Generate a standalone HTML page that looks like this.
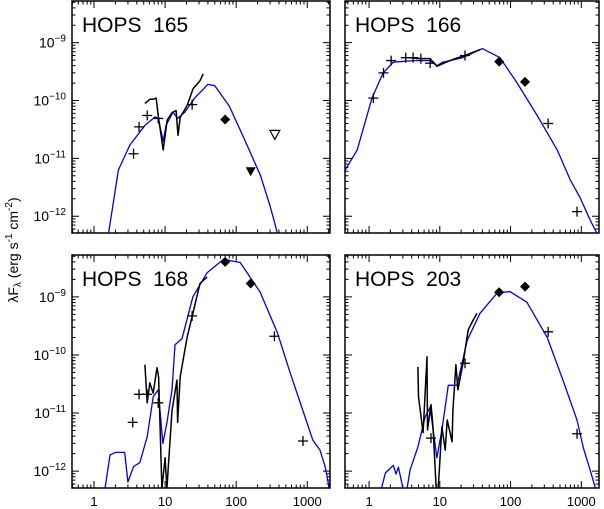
<!DOCTYPE html>
<html><head><meta charset="utf-8"><style>
body{margin:0;background:#fff;}
svg{display:block;font-family:"Liberation Sans","DejaVu Sans",sans-serif;}
</style></head><body>
<svg id="c" width="604" height="509" viewBox="0 0 604 509">
<text transform="translate(18,250) rotate(-90)" text-anchor="middle" font-size="14">λF<tspan font-size="10" dy="3">λ</tspan><tspan dy="-3"> (erg s</tspan><tspan font-size="10" dy="-6">-1</tspan><tspan dy="6"> cm</tspan><tspan font-size="10" dy="-6">-2</tspan><tspan dy="6">)</tspan></text>
</svg>
<script>
// ---- data ----
const panelNames = ["HOPS 165","HOPS 166","HOPS 168","HOPS 203"];
const yTickLabels = ["-9","-10","-11","-12"];
const yTickValues = [1e-9,1e-10,1e-11,1e-12];
const xTickLabels = ["1","10","100","1000"];
const xTickValues = [1,10,100,1000];

const m165wl = [1.6,2.2,3.2,5.2,7.2,8.0,9.4,10.3,12.9,15,19,26,40,50,80,134,219,300,355,380];
const m165f = [5e-13,6.3e-12,1.7e-11,3.7e-11,5.2e-11,4.9e-11,2e-11,3.7e-11,6.3e-11,4.9e-11,6.3e-11,1.1e-10,1.9e-10,1.8e-10,8e-11,2e-11,5.1e-12,1.5e-12,7e-13,5e-13];
const s165wl = [5.2,6.1,6.8,7.5,8.0,9.4,10.7,12.6,14.3,15.2,16.3,20.4,24.8,31,34.3];
const s165f = [8.9e-11,1.05e-10,1.05e-10,1.1e-10,5.5e-11,1.4e-11,4.6e-11,6.2e-11,6.7e-11,2.5e-11,5.1e-11,8.2e-11,1.6e-10,2.2e-10,2.9e-10];
const p165wl = [3.6,4.3,5.6,8,24];
const p165f = [1.2e-11,3.5e-11,5.5e-11,4.9e-11,8.5e-11];
const d165wl = [70]; const d165f = [4.7e-11];
const t165wl = [160]; const t165f = [6e-12];
const u165wl = [350]; const u165f = [2.6e-11];

const m166wl = [0.46,0.68,1.1,1.58,2.2,4.2,7.3,9.1,11,21,40,71,124,238,456,700,960,1340,1670];
const m166f = [6.3e-12,1.4e-11,1.1e-10,3e-10,4.6e-10,4.9e-10,4.9e-10,4e-10,4.6e-10,5.5e-10,7.9e-10,5.5e-10,2e-10,5.5e-11,1.4e-11,4.2e-12,2.1e-12,8.5e-13,5e-13];
const s166wl = [3.8,5.3,7.3,9.1,11.8,16.5,22.7,37];
const s166f = [5.5e-10,5.3e-10,5.3e-10,3.9e-10,4.5e-10,5.3e-10,6e-10,7.6e-10];
const p166wl = [1.15,1.6,2.05,3.3,4.2,5.4,7.3,22.7,340,870];
const p166f = [1.1e-10,3e-10,4.9e-10,5.5e-10,5.5e-10,5.3e-10,4.4e-10,6e-10,4e-11,1.2e-12];
const d166wl = [69,160]; const d166f = [4.7e-10,2.1e-10];

const m168wl = [1.43,1.68,2.0,2.7,3.0,3.6,4.4,5.6,6.8,8,9.3,10.6,12.5,13.8,17.3,24.6,39,66,114,218,380,575,890,1200,1510,1780,2040];
const m168f = [5.1e-13,1.9e-12,2.1e-12,2.1e-12,6.5e-13,1.2e-12,1.4e-12,3.9e-12,1.9e-11,2.5e-11,3e-12,6.8e-12,2.5e-11,1.5e-10,1.9e-10,1e-9,2.6e-9,4.4e-9,3.9e-9,1.2e-9,2.4e-10,4.9e-11,1e-11,3.4e-12,2.3e-12,1.2e-12,5.1e-13];
const s168wl = [5.2,5.6,6.1,6.8,7.7,8.1,9.0,10.0,10.6,12.5,14.7,15.0,16.3,20.4,24.6,31,39];
const s168f = [6.8e-11,1.5e-11,3.3e-11,2.2e-11,6e-11,4.2e-11,5e-13,1.7e-12,5e-13,1.1e-11,3.7e-11,6.9e-12,4.2e-11,2e-10,5.2e-10,1.7e-9,2.2e-9];
const p168wl = [3.5,4.3,5.6,8,24,345,870];
const p168f = [6.9e-12,2.1e-11,2.1e-11,1.5e-11,4.7e-10,2.1e-10,3.3e-12];
const d168wl = [70,160]; const d168f = [4e-9,1.7e-9];

const m203wl = [1.5,1.7,2.2,2.4,2.6,2.9,3.0,3.45,3.8,4.9,6.2,7.3,9.1,10.7,13.2,17.5,24.5,37,65,98,170,330,550,870,1070,1330,1580];
const m203f = [5.1e-13,9.3e-13,1.26e-12,8.9e-13,1.17e-12,6.3e-13,5.1e-13,5.1e-13,1.05e-12,2.6e-12,8.5e-12,1.26e-11,1.7e-12,5.1e-12,3e-11,3e-11,1.8e-10,5.2e-10,1.17e-9,1.23e-9,8.1e-10,2e-10,3.7e-11,7.6e-12,2.5e-12,1.05e-12,5.1e-13];
const s203wl = [4.9,5.0,5.8,6.6,6.7,7.5,8.0,8.9,9.5,10.7,11.9,12.7,14.9,15.3,16.9,18,21.3,25.2,29.6,33.5];
const s203f = [6.2e-11,1.9e-11,4.6e-12,9.3e-11,5.1e-12,1.4e-11,5.8e-12,5e-13,5e-13,5.8e-12,2.3e-12,7.6e-12,3.2e-12,1.1e-11,6.8e-11,2.5e-11,7.2e-11,2.7e-10,4e-10,5.2e-10];
const p203wl = [7.5,22.7,340,870];
const p203f = [3.7e-12,7.2e-11,2.5e-10,4.4e-12];
const d203wl = [69,160]; const d203f = [1.2e-9,1.5e-9];

// ---- layout ----
const NS="http://www.w3.org/2000/svg";
const svg=document.getElementById('c');
const panels=[
 {x0:72,x1:330,y0:1,y1:233,lx0:-0.31,lx1:3.32,yl:true,xl:false,
  m:[m165wl,m165f],s:[s165wl,s165f],p:[p165wl,p165f],d:[d165wl,d165f],t:[t165wl,t165f],u:[u165wl,u165f]},
 {x0:345,x1:599,y0:1,y1:233,lx0:-0.34,lx1:3.25,yl:false,xl:false,
  m:[m166wl,m166f],s:[s166wl,s166f],p:[p166wl,p166f],d:[d166wl,d166f]},
 {x0:72,x1:330,y0:255,y1:488,lx0:-0.31,lx1:3.32,yl:true,xl:true,
  m:[m168wl,m168f],s:[s168wl,s168f],p:[p168wl,p168f],d:[d168wl,d168f]},
 {x0:345,x1:599,y0:255,y1:488,lx0:-0.34,lx1:3.25,yl:false,xl:true,
  m:[m203wl,m203f],s:[s203wl,s203f],p:[p203wl,p203f],d:[d203wl,d203f]}
];
const ly0=-12.29, ly1=-8.28;
function mk(tag,attrs,parent){const e=document.createElementNS(NS,tag);for(const k in attrs)e.setAttribute(k,attrs[k]);(parent||svg).appendChild(e);return e;}

panels.forEach((P,i)=>{
 const g=mk('g',{});
 
 
 const X=v=>P.x0+(Math.log10(v)-P.lx0)/(P.lx1-P.lx0)*(P.x1-P.x0);
 const Y=v=>P.y1-(Math.log10(v)-ly0)/(ly1-ly0)*(P.y1-P.y0);
 const cp=mk('clipPath',{id:'cp'+i},g);
 mk('rect',{x:P.x0,y:P.y0,width:P.x1-P.x0,height:P.y1-P.y0},cp);
 let tk='';
 for(let d=-1;d<=3;d++)for(let k=1;k<=9;k++){const v=k*Math.pow(10,d);const lv=Math.log10(v);if(lv<P.lx0||lv>P.lx1)continue;
  const x=X(v),L=k==1?7:3.5;tk+=`M${x},${P.y1}v${-L}M${x},${P.y0}v${L}`;}
 for(let d=-13;d<=-9;d++)for(let k=1;k<=9;k++){const v=k*Math.pow(10,d);const lv=Math.log10(v);if(lv<ly0||lv>ly1)continue;
  const y=Y(v),L=k==1?7:3.5;tk+=`M${P.x0},${y}h${L}M${P.x1},${y}h${-L}`;}
 const tp=mk('path',{d:tk,stroke:'#000','stroke-width':1,fill:'none'},g);
 
 
 const fr=mk('rect',{x:P.x0,y:P.y0,width:P.x1-P.x0,height:P.y1-P.y0,fill:'none',stroke:'#000','stroke-width':1.5},g);
 
 
 if(P.yl) yTickValues.forEach((v,j)=>{const t=mk('text',{x:P.x0-6,y:Y(v)+5,'text-anchor':'end','font-size':14},g);
  t.innerHTML='10<tspan font-size="10" dy="-6">−'+yTickLabels[j].slice(1)+'</tspan>';
  
  });
 if(P.xl) xTickValues.forEach((v,j)=>{const t=mk('text',{x:X(v),y:506,'text-anchor':'middle','font-size':13},g);
  t.textContent=xTickLabels[j];
  
  });
 const tt=mk('text',{x:P.x0+10,y:P.y0+31,'font-size':21,'xml:space':'preserve'},g);tt.textContent=panelNames[i].replace(' ','\u00a0 ');
 
 
 const cg=mk('g',{'clip-path':`url(#cp${i})`},g);
 const line=(arr,col,w,name)=>{const dd=arr[0].map((v,j)=>(j?'L':'M')+X(v).toFixed(1)+','+Y(arr[1][j]).toFixed(1)).join('');
  const p=mk('path',{d:dd,stroke:col,'stroke-width':w,fill:'none','stroke-linejoin':'round'},cg);
  
  };
 line(P.m,'#0000ee',1.3,'model-curve');
 line(P.s,'#000',1.5,'irs-spectrum');
 P.p[0].forEach((v,j)=>{const x=X(v),y=Y(P.p[1][j]);const c=mk('path',{d:`M${x-5},${y}h10M${x},${y-5}v10`,stroke:'#000','stroke-width':1.3},cg);
  
  });
 P.d[0].forEach((v,j)=>{const x=X(v),y=Y(P.d[1][j]);const c=mk('path',{d:`M${x},${y-5}L${x+5},${y}L${x},${y+5}L${x-5},${y}Z`,fill:'#000'},cg);
  
  });
 if(P.t) P.t[0].forEach((v,j)=>{const x=X(v),y=Y(P.t[1][j]);const c=mk('path',{d:`M${x-5},${y-4}h10L${x},${y+5}Z`,fill:'#000'},cg);
  
  });
 if(P.u) P.u[0].forEach((v,j)=>{const x=X(v),y=Y(P.u[1][j]);const c=mk('path',{d:`M${x-5},${y-4}h10L${x},${y+5}Z`,fill:'none',stroke:'#000','stroke-width':1.2},cg);
  
  });
});
</script>
</body></html>
